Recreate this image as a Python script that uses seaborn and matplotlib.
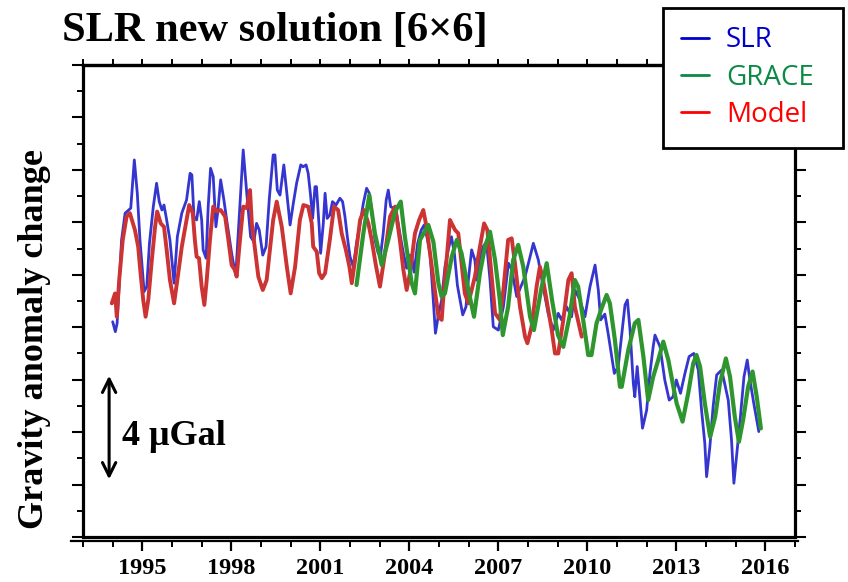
import matplotlib
matplotlib.use("Agg")
import matplotlib.pyplot as plt
from matplotlib.lines import Line2D
from matplotlib.ticker import MultipleLocator
import seaborn as sns
import pandas as pd

# ---------------- data ----------------
slr_t = [1994.00, 1994.09, 1994.15, 1994.30, 1994.42, 1994.61, 1994.73, 1994.83, 1994.92, 1995.06,
         1995.15, 1995.24, 1995.37, 1995.48, 1995.57, 1995.66, 1995.73, 1995.82, 1995.93, 1996.07,
         1996.18, 1996.33, 1996.49, 1996.61, 1996.67, 1996.74, 1996.83, 1996.92, 1997.00, 1997.05,
         1997.15, 1997.22, 1997.30, 1997.39, 1997.48, 1997.55, 1997.64, 1997.75, 1997.86, 1998.01,
         1998.09, 1998.15, 1998.28, 1998.40, 1998.52, 1998.65, 1998.76, 1998.85, 1998.94, 1999.06,
         1999.17, 1999.28, 1999.41, 1999.47, 1999.55, 1999.64, 1999.77, 1999.86, 1999.98, 2000.09,
         2000.20, 2000.34, 2000.42, 2000.52, 2000.59, 2000.67, 2000.74, 2000.82, 2000.87, 2000.96,
         2001.01, 2001.10, 2001.16, 2001.23, 2001.32, 2001.41, 2001.53, 2001.66, 2001.75, 2001.83,
         2001.91, 2002.00, 2002.11, 2002.22, 2002.34, 2002.45, 2002.56, 2002.65, 2002.73, 2002.84,
         2002.95, 2003.03, 2003.12, 2003.22, 2003.29, 2003.37, 2003.46, 2003.57, 2003.68, 2003.80,
         2003.91, 2004.00, 2004.08, 2004.16, 2004.28, 2004.40, 2004.50, 2004.60, 2004.70, 2004.80,
         2004.88, 2004.97, 2005.09, 2005.20, 2005.32, 2005.42, 2005.52, 2005.62, 2005.80, 2005.91,
         2005.99, 2006.10, 2006.21, 2006.27, 2006.38, 2006.49, 2006.60, 2006.72, 2006.83, 2007.00,
         2007.17, 2007.34, 2007.45, 2007.62, 2007.90, 2008.07, 2008.18, 2008.35, 2008.51, 2008.68,
         2008.85, 2009.02, 2009.13, 2009.30, 2009.47, 2009.58, 2009.75, 2009.92, 2010.09, 2010.26,
         2010.37, 2010.45, 2010.59, 2010.70, 2010.91, 2011.04, 2011.27, 2011.35, 2011.44, 2011.55,
         2011.60, 2011.68, 2011.86, 2012.00, 2012.11, 2012.22, 2012.28, 2012.45, 2012.61, 2012.76,
         2012.89, 2013.00, 2013.14, 2013.29, 2013.43, 2013.59, 2013.74, 2013.85, 2013.96, 2014.02,
         2014.13, 2014.24, 2014.36, 2014.53, 2014.75, 2014.86, 2014.94, 2015.14, 2015.28, 2015.39,
         2015.48, 2015.61, 2015.78]
slr_v = [8.21, 7.83, 8.15, 11.33, 12.35, 12.54, 14.38, 13.11, 11.33, 9.36,
         9.55, 11.20, 12.60, 13.49, 12.79, 12.47, 12.66, 12.09, 11.33, 9.68,
         11.45, 12.35, 12.85, 13.87, 13.81, 12.22, 12.09, 12.79, 12.09, 10.95,
         10.63, 12.60, 14.06, 13.74, 11.83, 12.47, 13.62, 12.85, 11.96, 10.82,
         10.31, 10.00, 12.50, 14.76, 13.11, 11.45, 11.26, 11.96, 11.71, 10.75,
         11.07, 12.90, 14.57, 14.57, 13.23, 13.04, 14.19, 13.23, 11.90, 12.73,
         13.49, 14.19, 14.12, 14.19, 13.87, 13.04, 12.15, 13.36, 13.36, 11.83,
         10.82, 11.96, 13.11, 12.15, 12.28, 12.79, 12.66, 12.92, 12.79, 12.22,
         11.45, 10.69, 10.31, 11.20, 11.96, 12.73, 13.30, 13.11, 12.47, 11.33,
         10.82, 10.75, 11.58, 12.85, 13.23, 12.60, 12.54, 12.35, 11.58, 10.82,
         10.25, 10.75, 10.69, 10.10, 11.20, 11.70, 11.90, 11.40, 10.80, 9.16,
         7.77, 8.40, 9.04, 10.30, 11.00, 11.45, 10.80, 9.60, 8.47, 8.78,
         9.80, 10.95, 10.56, 9.80, 10.69, 11.07, 11.26, 9.80, 8.02, 7.89,
         8.78, 10.44, 10.20, 9.17, 9.93, 10.69, 11.20, 10.56, 9.55, 8.53,
         7.89, 8.53, 8.28, 8.78, 8.40, 9.42, 9.04, 8.40, 9.55, 10.37,
         9.42, 8.28, 8.50, 7.77, 6.24, 6.50, 8.85, 9.04, 7.89, 5.86,
         5.35, 6.50, 4.15, 4.84, 6.24, 7.26, 7.70, 7.26, 5.99, 5.22,
         5.35, 5.99, 5.48, 6.24, 6.88, 7.00, 6.37, 4.84, 3.57, 2.30,
         3.44, 4.97, 6.18, 6.37, 5.22, 3.70, 2.05, 4.34, 6.11, 6.75,
         5.99, 5.10, 4.02]

grace_t = [2002.22, 2002.45, 2002.65, 2002.84, 2003.07, 2003.29, 2003.52, 2003.71, 2003.85, 2004.08,
           2004.19, 2004.36, 2004.64, 2004.81, 2004.98, 2005.09, 2005.20, 2005.43, 2005.60, 2005.76,
           2005.99, 2006.18, 2006.38, 2006.55, 2006.72, 2006.89, 2007.05, 2007.15, 2007.33, 2007.50,
           2007.67, 2007.84, 2008.07, 2008.20, 2008.44, 2008.63, 2008.81, 2009.01, 2009.19, 2009.41,
           2009.58, 2009.69, 2009.86, 2010.03, 2010.14, 2010.31, 2010.48, 2010.65, 2010.76, 2010.93,
           2011.10, 2011.16, 2011.38, 2011.60, 2011.72, 2011.89, 2012.05, 2012.22, 2012.39, 2012.56,
           2012.73, 2012.90, 2013.01, 2013.21, 2013.40, 2013.57, 2013.68, 2013.80, 2013.96, 2014.14,
           2014.31, 2014.47, 2014.67, 2014.81, 2014.97, 2015.11, 2015.25, 2015.42, 2015.57, 2015.71,
           2015.85]
grace_v = [9.61, 11.58, 13.04, 11.58, 10.37, 11.33, 12.41, 12.79, 11.45, 9.68,
           9.29, 11.33, 11.90, 11.26, 9.68, 9.16, 9.29, 10.69, 11.33, 10.82,
           9.42, 8.40, 10.06, 11.07, 11.64, 10.56, 9.04, 7.70, 8.78, 10.56,
           11.14, 10.31, 8.40, 7.89, 9.42, 10.44, 9.04, 7.70, 7.25, 8.47,
           9.80, 9.55, 8.28, 6.94, 6.94, 8.15, 8.72, 9.23, 8.91, 7.51,
           5.73, 5.73, 7.13, 8.15, 8.28, 6.88, 5.22, 6.11, 6.75, 7.45,
           6.75, 5.73, 5.10, 4.40, 5.48, 6.62, 6.94, 6.50, 5.10, 3.82,
           4.59, 5.86, 6.81, 6.11, 4.59, 3.63, 4.46, 5.73, 6.31, 5.35,
           4.14]

model_t = [1993.97, 1994.08, 1994.14, 1994.22, 1994.34, 1994.47, 1994.58, 1994.75, 1994.86, 1994.94,
           1995.03, 1995.11, 1995.20, 1995.32, 1995.43, 1995.50, 1995.62, 1995.73, 1995.82, 1995.93,
           1996.07, 1996.18, 1996.33, 1996.47, 1996.58, 1996.70, 1996.77, 1996.83, 1996.91, 1997.00,
           1997.09, 1997.17, 1997.28, 1997.39, 1997.51, 1997.64, 1997.79, 1997.90, 1998.01, 1998.12,
           1998.18, 1998.27, 1998.40, 1998.52, 1998.63, 1998.69, 1998.80, 1998.91, 1999.06, 1999.19,
           1999.30, 1999.41, 1999.53, 1999.70, 1999.87, 2000.00, 2000.15, 2000.31, 2000.43, 2000.59,
           2000.71, 2000.76, 2000.88, 2000.96, 2001.05, 2001.16, 2001.32, 2001.46, 2001.60, 2001.72,
           2001.86, 2001.98, 2002.06, 2002.17, 2002.34, 2002.47, 2002.62, 2002.73, 2002.88, 2003.01,
           2003.18, 2003.35, 2003.52, 2003.68, 2003.80, 2003.91, 2004.02, 2004.19, 2004.33, 2004.47,
           2004.58, 2004.86, 2004.98, 2005.09, 2005.14, 2005.37, 2005.54, 2005.65, 2005.76, 2005.87,
           2005.99, 2006.10, 2006.21, 2006.38, 2006.52, 2006.63, 2006.89, 2007.05, 2007.17, 2007.33,
           2007.45, 2007.56, 2007.73, 2007.90, 2007.98, 2008.12, 2008.29, 2008.40, 2008.51, 2008.80,
           2008.91, 2009.02, 2009.19, 2009.36, 2009.47, 2009.58, 2009.81]
model_v = [8.91, 9.29, 8.40, 9.80, 11.33, 12.22, 12.35, 11.71, 11.07, 10.06,
           9.04, 8.40, 9.04, 10.56, 11.83, 12.41, 11.96, 11.83, 10.95, 9.80,
           8.91, 9.80, 11.07, 11.96, 12.66, 12.35, 11.33, 10.69, 10.63, 9.55,
           8.85, 9.80, 11.33, 12.60, 12.41, 12.47, 12.22, 11.33, 10.37, 10.18,
           9.93, 11.07, 12.60, 12.54, 13.23, 11.96, 10.95, 9.93, 9.42, 9.80,
           10.95, 12.09, 12.79, 11.83, 10.31, 9.29, 10.31, 12.09, 12.66, 12.60,
           11.96, 11.07, 10.88, 10.06, 9.87, 10.06, 11.33, 12.60, 12.47, 11.58,
           10.95, 10.31, 9.68, 10.56, 12.09, 12.47, 11.96, 11.33, 10.31, 9.55,
           10.82, 12.22, 12.60, 11.33, 10.18, 9.42, 10.06, 11.58, 12.09, 12.47,
           11.83, 9.42, 8.40, 8.28, 9.04, 12.09, 11.71, 11.58, 10.44, 9.29,
           8.91, 9.42, 9.93, 11.07, 11.96, 11.71, 8.53, 8.28, 9.42, 11.33,
           11.39, 10.44, 8.78, 7.64, 7.39, 8.02, 9.55, 10.31, 9.80, 7.89,
           7.00, 7.00, 8.28, 9.80, 10.06, 8.78, 7.64]

series_names = ["SLR", "GRACE", "Model"]
year_ticks = [1995, 1998, 2001, 2004, 2007, 2010, 2013, 2016]

# ---------------- figure ----------------
sns.set_theme(style="ticks")
plt.rcParams["font.family"] = ["Liberation Serif", "DejaVu Serif"]
for k in ["text.color", "axes.labelcolor", "xtick.color", "ytick.color", "axes.edgecolor"]:
    plt.rcParams[k] = "black"

W, H = 848, 582
fig = plt.figure(figsize=(W / 100, H / 100), dpi=100)
ax = fig.add_axes([83 / W, 1 - 537 / H, (795 - 83) / W, (537 - 65) / H])

df_slr = pd.DataFrame({"year": slr_t, "value": slr_v})
df_grace = pd.DataFrame({"year": grace_t, "value": grace_v})
df_model = pd.DataFrame({"year": model_t, "value": model_v})

plot_cols = {"SLR": "#3535d0", "GRACE": "#2f962f", "Model": "#cc3333"}
sns.lineplot(data=df_slr, x="year", y="value", color=plot_cols["SLR"], lw=2.0,
             estimator=None, ax=ax, legend=False)
sns.lineplot(data=df_model, x="year", y="value", color=plot_cols["Model"], lw=2.8,
             estimator=None, ax=ax, legend=False)
sns.lineplot(data=df_grace, x="year", y="value", color=plot_cols["GRACE"], lw=3.0,
             estimator=None, ax=ax, legend=False)

# frame: spines first (set_position resets tick styling)
for s in ax.spines.values():
    s.set_visible(True)
    s.set_linewidth(2.3)
    s.set_color("black")
# the x axis line sits just below the frame and runs a little past it
ax.spines["bottom"].set_position(("outward", 3))
ax.spines["bottom"].set_linewidth(1.6)
ax.axhline(0, color="black", lw=2.3, clip_on=False, zorder=5)

ax.set_xlim(1993, 2017)
ax.set_ylim(0, 18)
ax.spines["bottom"].set_bounds(1992.6, 2017.1)
ax.set_xlabel("")
ax.set_ylabel("")

ax.set_xticks(year_ticks)
ax.set_xticklabels([str(y) for y in year_ticks], fontweight="bold", fontsize=17.5)
ax.xaxis.set_minor_locator(MultipleLocator(1))
ax.yaxis.set_major_locator(MultipleLocator(2))
ax.yaxis.set_minor_locator(MultipleLocator(1))
ax.set_yticklabels([])
ax.tick_params(axis="x", which="major", direction="out", length=7, width=1.6, pad=5,
               bottom=True, top=False, colors="black")
ax.tick_params(axis="x", which="minor", direction="out", length=4, width=1.4,
               bottom=True, top=False)
ax.tick_params(axis="y", which="major", direction="out", length=8, width=1.5,
               left=True, right=True, labelleft=False)
ax.tick_params(axis="y", which="minor", direction="out", length=4.5, width=1.4,
               left=True, right=True)

top = ax.secondary_xaxis("top")
top.set_xticks(list(range(1993, 2018)))
top.tick_params(direction="out", length=4, width=1.4, labeltop=False, colors="black")
top.spines["top"].set_linewidth(2.3)

# scale arrow and label
ax.annotate("", xy=(1993.88, 6.15), xytext=(1993.88, 2.2),
            arrowprops=dict(arrowstyle="<->", lw=2.2, color="black", mutation_scale=24,
                            shrinkA=0, shrinkB=0))
ax.text(1994.3, 3.85, "4 μGal", fontsize=26, fontweight="bold", ha="left", va="center")

# titles
fig.text(62 / W, 1 - 31 / H, "SLR new solution [6×6]", fontsize=30.5, fontweight="bold",
         ha="left", va="center")
fig.text(35 / W, 1 - 339 / H, "Gravity anomaly change", fontsize=26, fontweight="bold",
         rotation=90, ha="center", va="center")

# legend
leg_cols = ["#0000cc", "#0a8a45", "#ff0000"]
handles = [Line2D([0], [0], color=c, lw=2.0) for c in leg_cols]
leg = fig.legend(handles, series_names, loc="upper left", mode="expand",
                 bbox_to_anchor=(663 / W, 1 - 145 / H, 180 / W, 137 / H),
                 bbox_transform=fig.transFigure,
                 frameon=True, fancybox=False, framealpha=1, edgecolor="black",
                 prop={"family": "Open Sans", "size": 20}, labelcolor=leg_cols,
                 handlelength=1.0, handletextpad=0.6, labelspacing=0.34,
                 borderpad=0.66, borderaxespad=0)
leg.get_frame().set_linewidth(2.0)

fig.savefig("out.png", dpi=100)
